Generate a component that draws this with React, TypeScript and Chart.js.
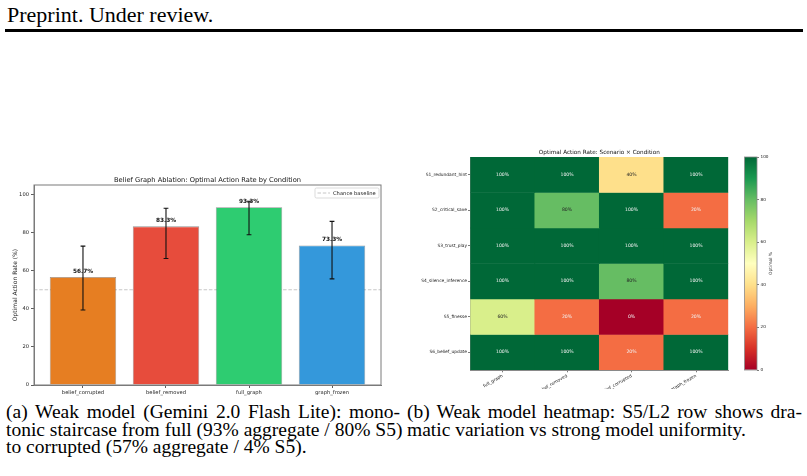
import React, { useEffect, useRef } from "react";
import { Chart, registerables } from "chart.js";

Chart.register(...registerables);

const SANS = "'DejaVu Sans', sans-serif";
const SERIF = "'Liberation Serif', 'Times New Roman', serif";

// ---- Panel (a): aggregate optimal action rate per ablation condition ----
const conditions = ["belief_corrupted", "belief_removed", "full_graph", "graph_frozen"];
const optimalRate = [56.7, 83.3, 93.3, 73.3];
const ciLow = [39.4, 66.4, 78.9, 55.7];
const ciHigh = [72.9, 92.8, 96.5, 85.9];
const conditionColors = ["#e67e22", "#e74c3c", "#2ecc71", "#3498db"];
const chanceBaseline = 50;
const rateTicks = [0, 20, 40, 60, 80, 100];

// ---- Panel (b): optimal action rate per scenario and condition ----
const scenarios = [
  "S1_redundant_hint",
  "S2_critical_save",
  "S3_trust_play",
  "S4_silence_inference",
  "S5_finesse",
  "S6_belief_update",
];
const heatConditions = ["full_graph", "belief_removed", "belief_corrupted", "graph_frozen"];
const s1RedundantHint = [100, 100, 40, 100];
const s2CriticalSave = [100, 80, 100, 20];
const s3TrustPlay = [100, 100, 100, 100];
const s4SilenceInference = [100, 100, 80, 100];
const s5Finesse = [60, 20, 0, 20];
const s6BeliefUpdate = [100, 100, 20, 100];
const heatRows = [s1RedundantHint, s2CriticalSave, s3TrustPlay, s4SilenceInference, s5Finesse, s6BeliefUpdate];
const colorbarTicks = [0, 20, 40, 60, 80, 100];

// RdYlGn colour map stops
const RDYLGN = [
  "#a50026", "#d73027", "#f46d43", "#fdae61", "#fee08b", "#ffffbf",
  "#d9ef8b", "#a6d96a", "#66bd63", "#1a9850", "#006837",
];

function hexToRgb(hex: string): number[] {
  const n = parseInt(hex.slice(1), 16);
  return [(n >> 16) & 255, (n >> 8) & 255, n & 255];
}

function rdylgn(t: number): string {
  const c = Math.max(0, Math.min(1, t)) * (RDYLGN.length - 1);
  const i = Math.min(RDYLGN.length - 2, Math.floor(c));
  const f = c - i;
  const a = hexToRgb(RDYLGN[i]);
  const b = hexToRgb(RDYLGN[i + 1]);
  const m = a.map((v, k) => Math.round(v + (b[k] - v) * f));
  return `rgb(${m[0]},${m[1]},${m[2]})`;
}

const X_MIN = -0.59;
const X_MAX = 3.59;

const barAnnotations = {
  id: "barAnnotations",
  afterDatasetsDraw(chart: any) {
    const { ctx, chartArea: a, scales } = chart;
    const y = scales.y;
    const bars = chart.getDatasetMeta(0).data;
    ctx.save();

    // value labels above each bar
    ctx.font = `bold 5.8px ${SANS}`;
    ctx.fillStyle = "#111";
    ctx.textAlign = "center";
    ctx.textBaseline = "bottom";
    bars.forEach((bar: any, i: number) => {
      ctx.fillText(`${optimalRate[i].toFixed(1)}%`, bar.x, y.getPixelForValue(optimalRate[i] + 1.5));
    });

    // confidence-interval whiskers
    ctx.strokeStyle = "#111";
    ctx.lineWidth = 1.1;
    bars.forEach((bar: any, i: number) => {
      const lo = y.getPixelForValue(ciLow[i]);
      const hi = y.getPixelForValue(ciHigh[i]);
      ctx.beginPath();
      ctx.moveTo(bar.x, lo);
      ctx.lineTo(bar.x, hi);
      ctx.moveTo(bar.x - 2.4, lo);
      ctx.lineTo(bar.x + 2.4, lo);
      ctx.moveTo(bar.x - 2.4, hi);
      ctx.lineTo(bar.x + 2.4, hi);
      ctx.stroke();
    });

    // axes frame
    ctx.strokeStyle = "#7a7a7a";
    ctx.lineWidth = 1;
    ctx.strokeRect(a.left, a.top, a.right - a.left, a.bottom - a.top);

    // title
    ctx.font = `6.7px ${SANS}`;
    ctx.fillStyle = "#111";
    ctx.textAlign = "center";
    ctx.textBaseline = "middle";
    ctx.fillText("Belief Graph Ablation: Optimal Action Rate by Condition", (a.left + a.right) / 2, a.top - 5);

    // legend box (top right, inside the axes)
    const baseline = chart.data.datasets[1];
    const bw = 64;
    const bh = 10;
    const bx = a.right - 2 - bw;
    const by = a.top + 3;
    ctx.beginPath();
    ctx.roundRect(bx, by, bw, bh, 1.5);
    ctx.fillStyle = "rgba(255,255,255,0.85)";
    ctx.fill();
    ctx.strokeStyle = "#d2d2d2";
    ctx.lineWidth = 0.8;
    ctx.stroke();
    ctx.beginPath();
    ctx.setLineDash(baseline.borderDash);
    ctx.strokeStyle = baseline.borderColor;
    ctx.lineWidth = baseline.borderWidth;
    ctx.moveTo(bx + 2.5, by + bh / 2);
    ctx.lineTo(bx + 15, by + bh / 2);
    ctx.stroke();
    ctx.setLineDash([]);
    ctx.font = `5.2px ${SANS}`;
    ctx.fillStyle = "#222";
    ctx.textAlign = "left";
    ctx.textBaseline = "middle";
    ctx.fillText(baseline.label, bx + 18, by + bh / 2 + 0.3);

    ctx.restore();
  },
};

function barConfig(): any {
  const tickFont = { family: SANS, size: 5.2 };
  return {
    type: "bar",
    data: {
      datasets: [
        {
          type: "bar",
          label: "Optimal action rate",
          data: optimalRate.map((v, i) => ({ x: i, y: v })),
          backgroundColor: conditionColors,
          borderColor: "rgba(40,40,40,0.5)",
          borderWidth: 0.8,
          barPercentage: 1,
          categoryPercentage: 0.8,
          order: 0,
        },
        {
          type: "line",
          label: "Chance baseline",
          data: [
            { x: X_MIN, y: chanceBaseline },
            { x: X_MAX, y: chanceBaseline },
          ],
          borderColor: "rgba(150,150,150,0.6)",
          borderWidth: 0.9,
          borderDash: [3.5, 1.8],
          pointRadius: 0,
          order: 1,
        },
      ],
    },
    options: {
      animation: false,
      responsive: false,
      devicePixelRatio: 1,
      layout: { padding: { left: 0, right: 19, top: 25, bottom: 0 } },
      plugins: { legend: { display: false }, tooltip: { enabled: false } },
      scales: {
        x: {
          type: "linear",
          min: X_MIN,
          max: X_MAX,
          offset: false,
          afterBuildTicks: (s: any) => {
            s.ticks = conditions.map((_, i) => ({ value: i }));
          },
          afterFit: (s: any) => {
            s.height = 15;
          },
          ticks: {
            autoSkip: false,
            maxRotation: 0,
            padding: 1.5,
            color: "#222",
            font: tickFont,
            callback: (v: any) => conditions[v] ?? "",
          },
          grid: { drawOnChartArea: false, offset: false, tickLength: 3, tickColor: "#333", tickWidth: 0.8 },
          border: { display: true, color: "#7a7a7a", width: 1 },
        },
        y: {
          min: 0,
          max: 105,
          afterBuildTicks: (s: any) => {
            s.ticks = rateTicks.map((v) => ({ value: v }));
          },
          afterFit: (s: any) => {
            s.width = 34;
          },
          ticks: { padding: 2, color: "#222", font: tickFont },
          grid: { drawOnChartArea: false, tickLength: 3, tickColor: "#333", tickWidth: 0.8 },
          border: { display: true, color: "#7a7a7a", width: 1 },
          title: {
            display: true,
            text: "Optimal Action Rate (%)",
            color: "#222",
            font: { family: SANS, size: 6 },
            padding: { top: 11.4, bottom: 0 },
          },
        },
      },
    },
    plugins: [barAnnotations],
  };
}

const heatAnnotations = {
  id: "heatAnnotations",
  afterDatasetsDraw(chart: any) {
    const { ctx, chartArea: a } = chart;
    ctx.save();
    ctx.font = `4.6px ${SANS}`;
    ctx.textAlign = "center";
    ctx.textBaseline = "middle";
    heatRows.forEach((row, r) => {
      const meta = chart.getDatasetMeta(r);
      meta.data.forEach((el: any, c: number) => {
        const v = row[c];
        ctx.fillStyle = v > 25 && v < 90 ? "#262626" : "#f2f2f2";
        ctx.fillText(`${v}%`, el.x, (el.y + el.base) / 2);
      });
    });
    ctx.font = `5.7px ${SANS}`;
    ctx.fillStyle = "#111";
    ctx.fillText("Optimal Action Rate: Scenario \u00d7 Condition", (a.left + a.right) / 2, a.top - 4.7);
    ctx.restore();
  },
};

function heatConfig(): any {
  const tickFont = { family: SANS, size: 4.4 };
  return {
    type: "bar",
    data: {
      labels: heatConditions,
      datasets: heatRows.map((row, r) => ({
        label: scenarios[r],
        data: row.map(() => [r, r + 1]),
        backgroundColor: row.map((v) => rdylgn(v / 100)),
        borderWidth: 0,
        grouped: false,
        barPercentage: 1,
        categoryPercentage: 1,
      })),
    },
    options: {
      animation: false,
      responsive: false,
      devicePixelRatio: 1,
      layout: { padding: { left: 0, right: 78.7, top: 17, bottom: 0 } },
      plugins: { legend: { display: false }, tooltip: { enabled: false } },
      scales: {
        x: {
          type: "category",
          offset: true,
          afterFit: (s: any) => {
            s.height = 19;
          },
          ticks: { autoSkip: false, minRotation: 30, maxRotation: 30, padding: 1, color: "#222", font: tickFont },
          grid: { drawOnChartArea: false, offset: false, tickLength: 2.3, tickColor: "#444", tickWidth: 0.7 },
          border: { display: true, color: "#8a8a8a", width: 1 },
        },
        y: {
          type: "linear",
          min: 0,
          max: scenarios.length,
          reverse: true,
          afterBuildTicks: (s: any) => {
            s.ticks = scenarios.map((_, i) => ({ value: i + 0.5 }));
          },
          afterFit: (s: any) => {
            s.width = 60.3;
          },
          ticks: {
            padding: 1,
            color: "#222",
            font: tickFont,
            callback: (v: any) => scenarios[Math.floor(v)] ?? "",
          },
          grid: { drawOnChartArea: false, tickLength: 2.3, tickColor: "#444", tickWidth: 0.7 },
          border: { display: true, color: "#8a8a8a", width: 1 },
        },
      },
    },
    plugins: [heatAnnotations],
  };
}

const colorbarFrame = {
  id: "colorbarFrame",
  afterDatasetsDraw(chart: any) {
    const { ctx, chartArea: a } = chart;
    ctx.save();
    ctx.strokeStyle = "#8a8a8a";
    ctx.lineWidth = 0.8;
    ctx.strokeRect(a.left, a.top, a.right - a.left, a.bottom - a.top);
    ctx.translate(a.right + 13.7, (a.top + a.bottom) / 2);
    ctx.rotate(-Math.PI / 2);
    ctx.font = `4.4px ${SANS}`;
    ctx.fillStyle = "#222";
    ctx.textAlign = "center";
    ctx.textBaseline = "middle";
    ctx.fillText(chart.data.labels[0], 0, 0);
    ctx.restore();
  },
};

function colorbarConfig(): any {
  const lo = colorbarTicks[0];
  const hi = colorbarTicks[colorbarTicks.length - 1];
  return {
    type: "bar",
    data: {
      labels: ["Optimal %"],
      datasets: [
        {
          data: [[lo, hi]],
          backgroundColor: (c: any) => {
            const area = c.chart.chartArea;
            if (!area) return RDYLGN[5];
            const g = c.chart.ctx.createLinearGradient(0, area.bottom, 0, area.top);
            RDYLGN.forEach((col, i) => g.addColorStop(i / (RDYLGN.length - 1), col));
            return g;
          },
          borderWidth: 0,
          barPercentage: 1,
          categoryPercentage: 1,
        },
      ],
    },
    options: {
      animation: false,
      responsive: false,
      devicePixelRatio: 1,
      layout: { padding: { left: 9.5, right: 0, top: 17, bottom: 19 } },
      plugins: { legend: { display: false }, tooltip: { enabled: false } },
      scales: {
        x: { display: false, offset: true },
        y: {
          position: "right",
          min: lo,
          max: hi,
          afterBuildTicks: (s: any) => {
            s.ticks = colorbarTicks.map((v) => ({ value: v }));
          },
          afterFit: (s: any) => {
            s.width = 50;
          },
          ticks: { padding: 1.5, color: "#222", font: { family: SANS, size: 4.2 } },
          grid: { drawOnChartArea: false, tickLength: 2, tickColor: "#444", tickWidth: 0.7 },
          border: { display: false },
        },
      },
    },
    plugins: [colorbarFrame],
  };
}

function ChartCanvas(props: { left: number; top: number; width: number; height: number; config: () => any }) {
  const ref = useRef<HTMLCanvasElement | null>(null);
  useEffect(() => {
    if (!ref.current) return;
    const chart = new Chart(ref.current, props.config());
    return () => chart.destroy();
  }, []);
  return (
    <canvas
      ref={ref}
      width={props.width}
      height={props.height}
      style={{
        position: "absolute",
        left: props.left,
        top: props.top,
        width: props.width,
        height: props.height,
        display: "block",
      }}
    />
  );
}

function TextLine(props: { left: number; baseline: number; width?: number; size: number; justify?: boolean; children: string }) {
  // Liberation Serif: baseline sits 0.8375em below the top of a line box of height 1em
  const top = props.baseline - props.size * 0.8375;
  return (
    <div
      style={{
        position: "absolute",
        left: props.left,
        top,
        width: props.width,
        fontFamily: SERIF,
        fontSize: props.size,
        lineHeight: `${props.size}px`,
        whiteSpace: "nowrap",
        textAlign: props.justify ? "justify" : "left",
        textAlignLast: props.justify ? "justify" : "auto",
        color: "#000",
      }}
    >
      {props.children}
    </div>
  );
}

export default function App() {
  const capSize = 19.5;
  return (
    <div style={{ position: "absolute", left: 0, top: 0, width: 807, height: 476, background: "#fff", overflow: "hidden" }}>
      <TextLine left={7} baseline={22.7} size={22}>Preprint. Under review.</TextLine>
      <div style={{ position: "absolute", left: 5, top: 28.5, width: 798, height: 3, background: "#000" }} />

      <ChartCanvas left={0} top={160} width={400} height={240} config={barConfig} />
      <ChartCanvas left={410} top={140} width={397} height={249} config={heatConfig} />
      <ChartCanvas left={735} top={140} width={72} height={249} config={colorbarConfig} />

      <TextLine left={6} baseline={418.5} width={394} size={capSize} justify>
        (a) Weak model (Gemini 2.0 Flash Lite): mono-
      </TextLine>
      <TextLine left={6} baseline={436} width={394} size={capSize} justify>
        tonic staircase from full (93% aggregate / 80% S5)
      </TextLine>
      <TextLine left={6} baseline={453.5} size={capSize}>
        to corrupted (57% aggregate / 4% S5).
      </TextLine>
      <TextLine left={407} baseline={418.5} width={395} size={capSize} justify>
        (b) Weak model heatmap: S5/L2 row shows dra-
      </TextLine>
      <TextLine left={407} baseline={436} size={capSize}>
        matic variation vs strong model uniformity.
      </TextLine>
    </div>
  );
}
